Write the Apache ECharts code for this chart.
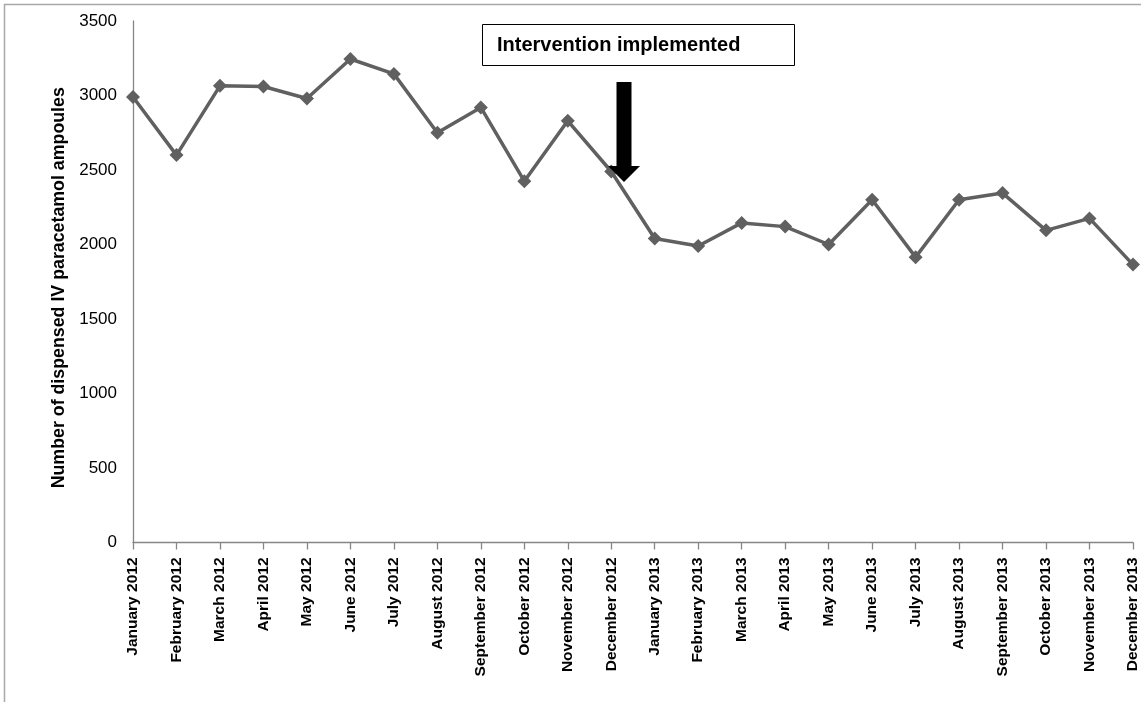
<!DOCTYPE html>
<html>
<head>
<meta charset="utf-8">
<script src="https://cdn.jsdelivr.net/npm/echarts@6/dist/echarts.min.js"></script>
<style>html,body{margin:0;padding:0;background:#fff}#c{width:1141px;height:702px}</style>
</head>
<body>
<div id="c"></div>
<script>
var categories = ['January 2012','February 2012','March 2012','April 2012','May 2012','June 2012','July 2012','August 2012','September 2012','October 2012','November 2012','December 2012','January 2013','February 2013','March 2013','April 2013','May 2013','June 2013','July 2013','August 2013','September 2013','October 2013','November 2013','December 2013'];
var ampoules = [2990, 2600, 3065, 3060, 2980, 3245, 3145, 2750, 2920, 2425, 2830, 2490, 2040, 1990, 2145, 2120, 2000, 2300, 1915, 2300, 2345, 2095, 2175, 1865];
var yTicks = {min: 0, max: 3500, interval: 500};
var yTitle = 'Number of dispensed IV paracetamol ampoules';
var noteText = 'Intervention implemented';

var chart = echarts.init(document.getElementById('c'));
var font = '"Liberation Sans", Arial, sans-serif';
chart.setOption({
  animation: false,
  backgroundColor: '#fff',
  grid: {left: 133, right: 6, top: 21, bottom: 159.5, containLabel: false},
  xAxis: {
    type: 'category',
    data: categories,
    boundaryGap: false,
    axisLine: {lineStyle: {color: '#868686', width: 1.3}},
    axisTick: {show: true, length: 7, lineStyle: {color: '#868686', width: 1.3}},
    axisLabel: {rotate: 90, interval: 0, margin: 15, color: '#000', fontFamily: font, fontWeight: 'bold', fontSize: 15.5}
  },
  yAxis: {
    type: 'value',
    min: yTicks.min, max: yTicks.max, interval: yTicks.interval,
    name: yTitle,
    nameLocation: 'middle',
    nameGap: 62,
    nameTextStyle: {color: '#000', fontFamily: font, fontWeight: 'bold', fontSize: 17.8, padding: [0, 12, 0, 0]},
    axisLine: {show: true, lineStyle: {color: '#868686', width: 1.3}},
    axisTick: {show: false},
    splitLine: {show: false},
    axisLabel: {margin: 16, color: '#000', fontFamily: font, fontSize: 17, formatter: function (v) { return String(v); }}
  },
  series: [{
    type: 'line',
    data: ampoules,
    symbol: 'diamond',
    symbolSize: 14,
    showAllSymbol: true,
    lineStyle: {color: '#606060', width: 3.5},
    itemStyle: {color: '#606060'}
  }],
  graphic: [
    {type: 'rect', shape: {x: 4.5, y: 4.5, width: 1300, height: 900}, style: {fill: 'none', stroke: '#a8a8a8', lineWidth: 1.5}, z: -10},
    {type: 'rect', shape: {x: 482.5, y: 24.5, width: 312, height: 41}, style: {fill: '#fff', stroke: '#000', lineWidth: 1}},
    {type: 'text', x: 497, y: 45, style: {text: noteText, font: 'bold 20px ' + font, fill: '#000', verticalAlign: 'middle', textAlign: 'left'}},
    {type: 'polygon', shape: {points: [[616.5, 82], [631.5, 82], [631.5, 166], [640, 166], [624, 182], [608, 166], [616.5, 166]]}, style: {fill: '#000'}, z: 100}
  ]
});
</script>
</body>
</html>
